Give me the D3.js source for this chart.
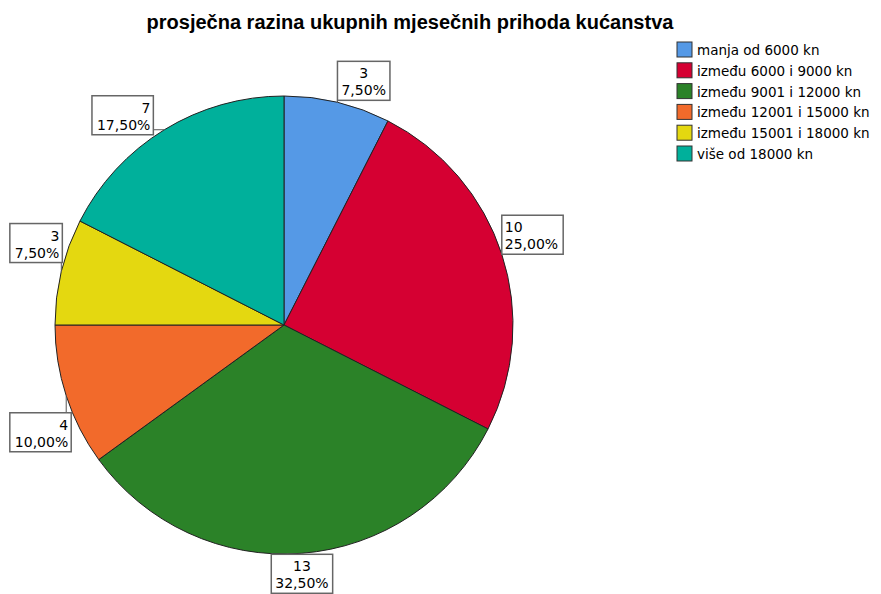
<!DOCTYPE html>
<html>
<head>
<meta charset="utf-8">
<script src="https://cdn.jsdelivr.net/npm/d3@7"></script>
<style>
  body { margin: 0; background: #fff; }
  text { font-family: 'DejaVu Sans', sans-serif; fill: #000; }
</style>
</head>
<body>
<div id="chart"></div>
<script>
const categories = [
  'manja od 6000 kn',
  'između 6000 i 9000 kn',
  'između 9001 i 12000 kn',
  'između 12001 i 15000 kn',
  'između 15001 i 18000 kn',
  'više od 18000 kn'
];
const counts = [3, 10, 13, 4, 3, 7];
const percentLabels = ['7,50%', '25,00%', '32,50%', '10,00%', '7,50%', '17,50%'];
const colors = ['#5599e6', '#d50032', '#2b8228', '#f26a2b', '#e4d810', '#00b09b'];

const width = 881;
const height = 594;
const cx = 284;
const cy = 325;
const radius = 229;

const svg = d3.select('#chart')
  .append('svg')
  .attr('width', width)
  .attr('height', height);

svg.append('text')
  .attr('x', 410)
  .attr('y', 29)
  .attr('text-anchor', 'middle')
  .style('font-family', "'Liberation Sans', Arial, sans-serif")
  .style('font-weight', 'bold')
  .style('font-size', '20px')
  .text('prosječna razina ukupnih mjesečnih prihoda kućanstva');

const pie = d3.pie().sort(null).value((d) => d);
const arcs = pie(counts);
const arc = d3.arc().innerRadius(0).outerRadius(radius);

const g = svg.append('g').attr('transform', 'translate(' + cx + ',' + cy + ')');

g.selectAll('path')
  .data(arcs)
  .enter()
  .append('path')
  .attr('d', arc)
  .attr('fill', (d, i) => colors[i])
  .attr('stroke', '#222')
  .attr('stroke-width', 1);

// label box placement relative to the point on the rim at the slice's mid angle
// [horizontal mode, dx, dy, text align]
const boxLayout = [
  ['left', 0, -41, 'middle'],
  ['left', 0, -39, 'start'],
  ['center', 0, 1, 'middle'],
  ['right', 5, 17, 'end'],
  ['right', 1, -48, 'end'],
  ['right', -11, -34, 'end']
];

const boxH = 39;
const labels = svg.append('g');

arcs.forEach((d, i) => {
  const mid = (d.startAngle + d.endAngle) / 2;
  const ax = cx + radius * Math.sin(mid);
  const ay = cy - radius * Math.cos(mid);
  const lay = boxLayout[i];

  const lg = labels.append('g');
  const t1 = lg.append('text').style('font-size', '14px').text(counts[i]);
  const t2 = lg.append('text').style('font-size', '14px').text(percentLabels[i]);
  const tw = Math.max(t1.node().getComputedTextLength(), t2.node().getComputedTextLength());
  const boxW = tw + 8;

  let left;
  if (lay[0] === 'left') left = ax + lay[1];
  else if (lay[0] === 'right') left = ax + lay[1] - boxW;
  else left = ax + lay[1] - boxW / 2;
  const top = ay + lay[2];

  // leader line from rim to nearest box point
  const nx = Math.max(left, Math.min(ax, left + boxW));
  const ny = Math.max(top, Math.min(ay, top + boxH));
  lg.insert('line', 'text')
    .attr('x1', ax).attr('y1', ay)
    .attr('x2', nx).attr('y2', ny)
    .attr('stroke', '#555')
    .attr('stroke-width', 1);

  lg.insert('rect', 'text')
    .attr('x', left)
    .attr('y', top)
    .attr('width', boxW)
    .attr('height', boxH)
    .attr('fill', '#fff')
    .attr('stroke', '#666')
    .attr('stroke-width', 1.5);

  let tx;
  if (lay[3] === 'start') tx = left + 3;
  else if (lay[3] === 'end') tx = left + boxW - 3;
  else tx = left + boxW / 2;

  t1.attr('x', tx).attr('y', top + 17).attr('text-anchor', lay[3]);
  t2.attr('x', tx).attr('y', top + 34).attr('text-anchor', lay[3]);
});

const legend = svg.append('g').attr('transform', 'translate(677,42)');
const item = legend.selectAll('g')
  .data(categories)
  .enter()
  .append('g')
  .attr('transform', (d, i) => 'translate(0,' + i * 20.8 + ')');

item.append('rect')
  .attr('width', 15)
  .attr('height', 15)
  .attr('fill', (d, i) => colors[i])
  .attr('stroke', '#333')
  .attr('stroke-width', 1);

item.append('text')
  .attr('x', 20)
  .attr('y', 13)
  .style('font-size', '13.5px')
  .text((d) => d);
</script>
</body>
</html>
